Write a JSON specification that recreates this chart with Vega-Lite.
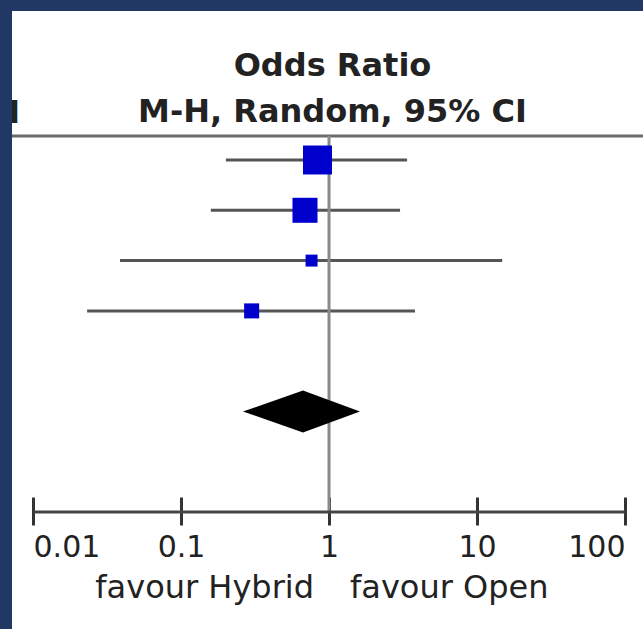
{
  "$schema": "https://vega.github.io/schema/vega-lite/v6.json",
  "autosize": {"type": "none"},
  "width": 631,
  "height": 618,
  "padding": {"left": 12, "top": 11, "right": 0, "bottom": 0},
  "background": "#213864",
  "title": {
    "text": ["Odds Ratio", "M-H, Random, 95% CI"],
    "font": "DejaVu Sans",
    "fontSize": 32,
    "fontWeight": "bold",
    "lineHeight": 46,
    "anchor": "middle",
    "frame": "group",
    "baseline": "alphabetic",
    "offset": -143,
    "dx": 5,
    "color": "#222222"
  },
  "datasets": {
    "studies": [
      {"study": "Study 1", "row": 1, "or": 0.836, "lo": 0.201, "hi": 3.37, "weight": 45.8},
      {"study": "Study 2", "row": 2, "or": 0.688, "lo": 0.159, "hi": 3.02, "weight": 34.1},
      {"study": "Study 3", "row": 3, "or": 0.762, "lo": 0.0387, "hi": 14.8, "weight": 7.8},
      {"study": "Study 4", "row": 4, "or": 0.30, "lo": 0.0232, "hi": 3.81, "weight": 12.3}
    ],
    "pooled": [
      {"study": "Total", "row": 6, "or": 0.667, "lo": 0.262, "hi": 1.62}
    ]
  },
  "layer": [
    {
      "data": {"name": "studies"},
      "mark": {"type": "rule", "color": "#555555", "strokeWidth": 3},
      "encoding": {
        "x": {
          "field": "lo", "type": "quantitative", "title": null,
          "scale": {"type": "log", "domain": [0.007209, 132.3], "nice": false},
          "axis": {
            "orient": "bottom", "offset": -132, "values": [0.01, 0.1, 1, 10, 100], "format": "~g",
            "domain": false, "grid": false, "tickSize": 28, "tickWidth": 3, "tickColor": "#333333",
            "labelFont": "DejaVu Sans", "labelFontSize": 30, "labelColor": "#222222",
            "labelPadding": 7, "labelFlush": 25, "labelBaseline": "top", "title": null
          }
        },
        "x2": {"field": "hi"},
        "y": {"field": "row", "type": "quantitative", "title": null, "axis": null,
              "scale": {"domain": [-1.962, 10.324], "reverse": true, "nice": false, "zero": false}}
      }
    },
    {
      "data": {"values": [{}]},
      "mark": {"type": "rule", "color": "#6b6b6b", "strokeWidth": 3},
      "encoding": {
        "y": {"datum": 0.523, "type": "quantitative", "axis": null,
              "scale": {"domain": [-1.962, 10.324], "reverse": true, "nice": false, "zero": false}}
      }
    },
    {
      "data": {"values": [{}]},
      "mark": {"type": "rule", "color": "#8a8a8a", "strokeWidth": 3},
      "encoding": {
        "x": {"datum": 1, "type": "quantitative"},
        "y": {"datum": 0.523, "type": "quantitative", "axis": null,
              "scale": {"domain": [-1.962, 10.324], "reverse": true, "nice": false, "zero": false}},
        "y2": {"datum": 8}
      }
    },
    {
      "data": {"values": [{}]},
      "mark": {"type": "rule", "color": "#444444", "strokeWidth": 3},
      "encoding": {
        "x": {"datum": 0.01, "type": "quantitative"},
        "x2": {"datum": 100},
        "y": {"datum": 8, "type": "quantitative", "axis": null,
              "scale": {"domain": [-1.962, 10.324], "reverse": true, "nice": false, "zero": false}}
      }
    },
    {
      "data": {"name": "studies"},
      "mark": {"type": "point", "shape": "square", "filled": true, "color": "#0000cc", "opacity": 1},
      "encoding": {
        "x": {"field": "or", "type": "quantitative", "title": null},
        "y": {"field": "row", "type": "quantitative", "title": null, "axis": null,
              "scale": {"domain": [-1.962, 10.324], "reverse": true, "nice": false, "zero": false}},
        "size": {"field": "weight", "type": "quantitative", "legend": null,
                 "scale": {"domain": [0, 100], "range": [0, 1835]}}
      }
    },
    {
      "data": {"name": "pooled"},
      "mark": {"type": "point", "shape": "M-1.026,0L0,-0.359L0.974,0L0,0.359Z", "filled": true,
               "color": "#000000", "opacity": 1, "size": 13689},
      "encoding": {
        "x": {"field": "or", "type": "quantitative", "title": null},
        "y": {"field": "row", "type": "quantitative", "title": null, "axis": null,
              "scale": {"domain": [-1.962, 10.324], "reverse": true, "nice": false, "zero": false}}
      }
    },
    {
      "data": {"values": [{"label": "favour Hybrid"}]},
      "mark": {"type": "text", "align": "right", "baseline": "alphabetic", "dx": -15,
               "font": "DejaVu Sans", "fontSize": 32, "color": "#222222"},
      "encoding": {
        "x": {"datum": 1, "type": "quantitative"},
        "y": {"datum": 9.708, "type": "quantitative", "axis": null,
              "scale": {"domain": [-1.962, 10.324], "reverse": true, "nice": false, "zero": false}},
        "text": {"field": "label"}
      }
    },
    {
      "data": {"values": [{"label": "favour Open"}]},
      "mark": {"type": "text", "align": "left", "baseline": "alphabetic", "dx": 21,
               "font": "DejaVu Sans", "fontSize": 32, "color": "#222222"},
      "encoding": {
        "x": {"datum": 1, "type": "quantitative"},
        "y": {"datum": 9.708, "type": "quantitative", "axis": null,
              "scale": {"domain": [-1.962, 10.324], "reverse": true, "nice": false, "zero": false}},
        "text": {"field": "label"}
      }
    },
    {
      "data": {"values": [{"label": "95% CI"}]},
      "mark": {"type": "text", "align": "right", "baseline": "alphabetic", "clip": true,
               "font": "DejaVu Sans", "fontSize": 32, "fontWeight": "bold", "color": "#222222"},
      "encoding": {
        "x": {"datum": 0.0082, "type": "quantitative"},
        "y": {"datum": 0.264, "type": "quantitative", "axis": null,
              "scale": {"domain": [-1.962, 10.324], "reverse": true, "nice": false, "zero": false}},
        "text": {"field": "label"}
      }
    }
  ],
  "config": {
    "view": {"fill": "white", "stroke": null},
    "font": "DejaVu Sans"
  }
}
